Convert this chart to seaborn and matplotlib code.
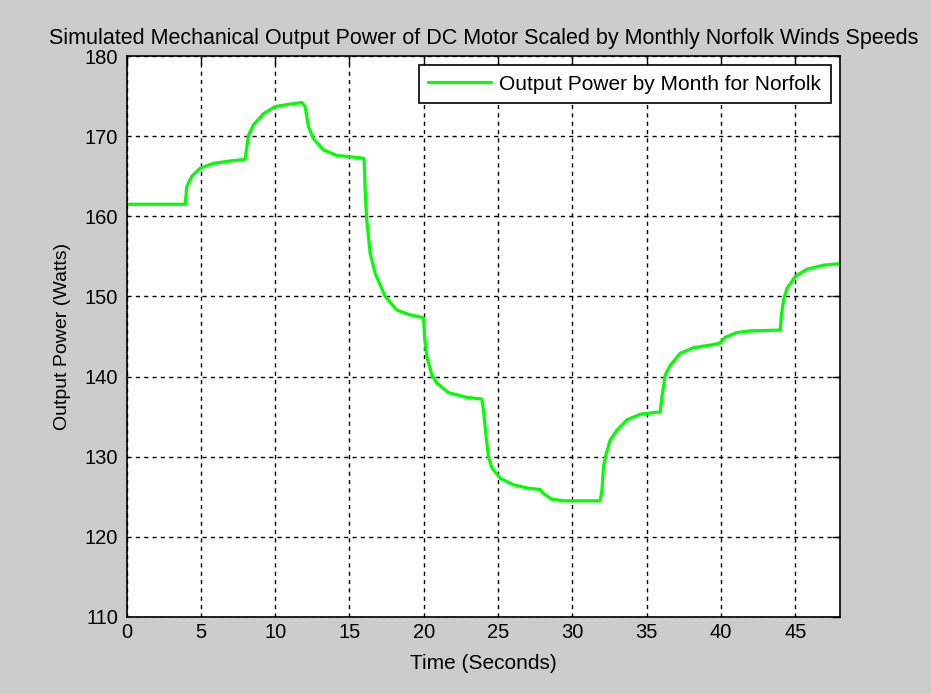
import matplotlib
matplotlib.use("Agg")
import matplotlib.pyplot as plt
import pandas as pd
import seaborn as sns

# Values (time in s, power in W)
time_s = [0, 3.95, 4.05, 4.39, 4.95, 5.84, 6.96, 7.97,
          8.04, 8.2, 8.53, 9.21, 10.0, 11.0, 11.8,
          12.01, 12.24, 12.57, 13.24, 14.14, 15.7, 15.98,
          16.05, 16.16, 16.39, 16.72, 17.4, 18.18, 19.08, 19.87, 19.98,
          20.05, 20.2, 20.54, 20.87, 21.66, 22.89, 23.9,
          24.01, 24.19, 24.35, 24.58, 25.14, 26.03, 26.93, 27.83,
          28.05, 28.6, 29.4, 31.86,
          31.98, 32.09, 32.27, 32.54, 32.99, 33.66, 34.56, 35.9,
          36.02, 36.24, 36.57, 37.25, 38.14, 39.49,
          39.94, 40.27, 41.06, 41.96, 43.98,
          44.04, 44.2, 44.43, 44.99, 45.77, 46.89, 48.0]
power_w = [161.5, 161.5, 163.7, 165.0, 166.0, 166.6, 166.9, 167.1,
           167.9, 170.1, 171.4, 172.8, 173.7, 174.0, 174.2,
           173.7, 171.2, 169.7, 168.3, 167.6, 167.3, 167.2,
           163.3, 159.5, 155.4, 152.9, 150.0, 148.3, 147.7, 147.4, 147.3,
           145.0, 142.5, 140.2, 139.2, 138.0, 137.4, 137.2,
           135.8, 132.5, 130.0, 128.6, 127.3, 126.5, 126.1, 125.9,
           125.4, 124.7, 124.5, 124.5,
           125.8, 128.8, 130.4, 132.1, 133.3, 134.6, 135.3, 135.6,
           137.5, 140.2, 141.4, 142.9, 143.6, 144.0,
           144.2, 144.9, 145.5, 145.7, 145.8,
           147.5, 149.6, 151.0, 152.5, 153.4, 153.9, 154.1]

x_ticks = [0, 5, 10, 15, 20, 25, 30, 35, 40, 45]
y_ticks = [110, 120, 130, 140, 150, 160, 170, 180]

df = pd.DataFrame({"Time": time_s, "Power": power_w})

sns.set_style("white")
plt.rcParams["font.family"] = ["Liberation Sans", "DejaVu Sans"]
plt.rcParams["text.color"] = "black"
plt.rcParams["axes.labelcolor"] = "black"

fig = plt.figure(figsize=(9.31, 6.94), dpi=100, facecolor="#cccccc")
ax = fig.add_axes([0.1359, 0.111, 0.7664, 0.8083])
ax.set_facecolor("white")

sns.lineplot(data=df, x="Time", y="Power", ax=ax, color="#00ff00",
             linewidth=2.3, sort=False, estimator=None,
             label="Output Power by Month for Norfolk")

ax.set_xlim(0, 48)
ax.set_ylim(110, 180)
ax.set_xticks(x_ticks)
ax.set_yticks(y_ticks)
ax.grid(True, color="black", linestyle=(0, (3, 3)), linewidth=1.0)
ax.set_axisbelow(True)
ax.tick_params(direction="in", length=6, width=1.0, top=True, right=True,
               labelsize=14.5, colors="black")
ax.tick_params(axis="y", pad=6)
ax.tick_params(axis="x", pad=4)
for s in ax.spines.values():
    s.set_color("black")
    s.set_linewidth(1.2)

ax.set_xlabel("Time (Seconds)", fontsize=15, labelpad=9)
ax.set_ylabel("Output Power (Watts)", fontsize=14, labelpad=10)
ax.set_title("Simulated Mechanical Output Power of DC Motor Scaled by Monthly Norfolk Winds Speeds",
             fontsize=15.5, pad=9, color="black")

leg = ax.legend(loc="upper right", fontsize=15, fancybox=False, framealpha=1,
                edgecolor="black", handlelength=3.0, handletextpad=0.4,
                borderpad=0.45, borderaxespad=0.45)
leg.get_frame().set_linewidth(1.2)
for t in leg.get_texts():
    t.set_color("black")

fig.savefig("out.png", dpi=100, facecolor=fig.get_facecolor())
